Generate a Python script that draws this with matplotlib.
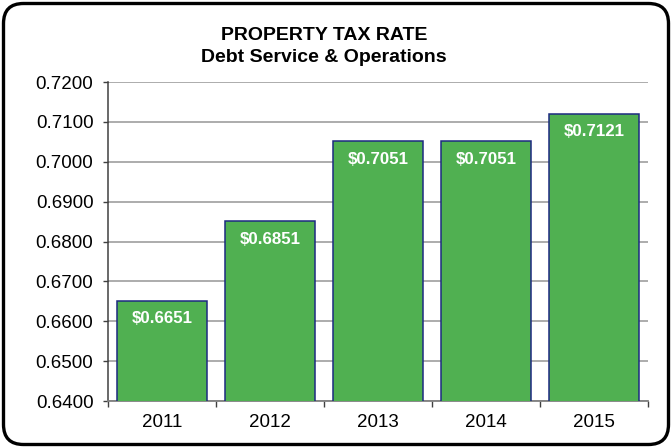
import matplotlib
matplotlib.use('Agg')
import matplotlib.pyplot as plt
from matplotlib.patches import FancyBboxPatch
from matplotlib.ticker import FormatStrFormatter, FixedLocator

years = ['2011', '2012', '2013', '2014', '2015']
rates = [0.6651, 0.6851, 0.7051, 0.7051, 0.7121]
yticks = [0.64, 0.65, 0.66, 0.67, 0.68, 0.69, 0.70, 0.71, 0.72]

plt.rcParams['font.family'] = ['Liberation Sans', 'DejaVu Sans']

fig = plt.figure(figsize=(6.72, 4.48), dpi=100)
ax = fig.add_axes([108 / 672, 1 - 401 / 448, 540 / 672, 319 / 448])

x = list(range(len(years)))
bars = ax.bar(x, rates, width=0.84, color='#50B051', edgecolor='#1C2A80',
              linewidth=1.1, zorder=3)

for b, v in zip(bars, rates):
    ax.annotate('$%.4f' % v, (b.get_x() + b.get_width() / 2, v),
                xytext=(0, -13), textcoords='offset points',
                ha='center', va='center', color='white',
                fontsize=12.2, fontweight='bold', zorder=4)

ax.set_xlim(-0.5, len(years) - 0.5)
ax.set_ylim(0.64, 0.72)
ax.set_yticks(yticks)
ax.yaxis.set_major_formatter(FormatStrFormatter('%.4f'))
ax.set_xticks(x)
ax.set_xticklabels(years)
ax.xaxis.set_minor_locator(FixedLocator([i - 0.5 for i in range(len(years) + 1)]))

ax.tick_params(axis='y', direction='out', length=3.5, width=1, color='#404040',
               labelsize=13.5, pad=7)
ax.tick_params(axis='x', which='major', length=0, labelsize=13.5, pad=9)
ax.tick_params(axis='x', which='minor', direction='out', length=4, width=1,
               color='#404040')

ax.grid(axis='y', color='#A6A6A6', linewidth=1.3, zorder=0)
ax.set_axisbelow(True)
for s in ['top', 'right']:
    ax.spines[s].set_visible(False)
ax.spines['left'].set_color('#404040')
ax.spines['left'].set_linewidth(1.1)
ax.spines['bottom'].set_color('#808080')
ax.spines['bottom'].set_linewidth(1.3)

fig.text(0.482, 1 - 35 / 448, 'PROPERTY TAX RATE', ha='center', va='center',
         fontsize=14, fontweight='bold')
fig.text(0.482, 1 - 58 / 448, 'Debt Service & Operations', ha='center',
         va='center', fontsize=14, fontweight='bold')

# rounded frame around the whole chart
frame = FancyBboxPatch((0.035, 0.035), 6.65, 4.41,
                       boxstyle='round,pad=0,rounding_size=0.2',
                       transform=fig.dpi_scale_trans, facecolor='none',
                       edgecolor='black', linewidth=2.4)
fig.patches.append(frame)

fig.savefig('out.png', dpi=100)
